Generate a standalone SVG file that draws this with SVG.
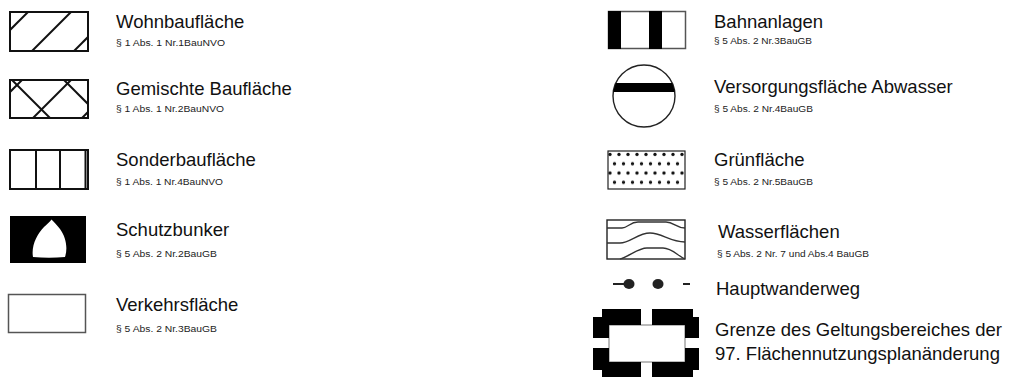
<svg xmlns="http://www.w3.org/2000/svg" width="1012" height="377" viewBox="0 0 1012 377">
<style>
.t{font-family:"Liberation Sans",Arial,sans-serif;font-size:18.5px;fill:#111}
.s{font-family:"Liberation Sans",Arial,sans-serif;font-size:8.5px;fill:#222}
.box{fill:#fff;stroke:#111;stroke-width:2}
.h{stroke:#111;stroke-width:2;fill:none}
.w{stroke:#333;stroke-width:1.3;fill:none}
</style>
<defs>
<clipPath id="cw"><rect x="10" y="12" width="78" height="39"/></clipPath>
<clipPath id="cg"><rect x="10" y="80" width="78" height="38"/></clipPath>
<clipPath id="cc"><circle cx="644" cy="96" r="31"/></clipPath>
<pattern id="dots" x="608" y="151" width="9" height="18.6" patternUnits="userSpaceOnUse">
<circle cx="2" cy="3.5" r="1.7" fill="#111"/>
<circle cx="6.5" cy="12.8" r="1.7" fill="#111"/>
</pattern>
</defs>
<rect width="1012" height="377" fill="#fff"/>

<g id="wohnbau">
<rect class="box" x="10" y="12" width="78" height="39"/>
<g clip-path="url(#cw)">
<line class="h" x1="0" y1="40" x2="40" y2="0"/>
<line class="h" x1="23" y1="60" x2="83" y2="0"/>
<line class="h" x1="65" y1="60" x2="125" y2="0"/>
</g>
<text class="t" x="116" y="28">Wohnbaufläche</text>
<text class="s" x="116" y="46" textLength="109" lengthAdjust="spacingAndGlyphs">§ 1 Abs. 1 Nr.1BauNVO</text>
</g>

<g id="gemischt">
<rect class="box" x="10" y="80" width="78" height="38"/>
<g clip-path="url(#cg)">
<line class="h" x1="0" y1="102" x2="30" y2="72"/>
<line class="h" x1="31" y1="120" x2="81" y2="70"/>
<line class="h" x1="80" y1="120" x2="100" y2="100"/>
<line class="h" x1="2" y1="70" x2="54" y2="122"/>
<line class="h" x1="54" y1="70" x2="100" y2="116"/>
</g>
<text class="t" x="116" y="95">Gemischte Baufläche</text>
<text class="s" x="116" y="112" textLength="108" lengthAdjust="spacingAndGlyphs">§ 1 Abs. 1 Nr.2BauNVO</text>
</g>

<g id="sonderbau">
<rect class="box" x="10" y="150" width="78" height="39"/>
<line class="h" x1="36" y1="150" x2="36" y2="189"/>
<line class="h" x1="60" y1="150" x2="60" y2="189"/>
<line class="h" x1="85.5" y1="150" x2="85.5" y2="189"/>
<text class="t" x="116" y="166">Sonderbaufläche</text>
<text class="s" x="116" y="185" textLength="107" lengthAdjust="spacingAndGlyphs">§ 1 Abs. 1 Nr.4BauNVO</text>
</g>

<g id="schutzbunker">
<rect x="10" y="216" width="76" height="47" fill="#000"/>
<path d="M33,257 C31,246 37,234 44,227 C47,224 50,222 51.5,219.5 C54,222 57,225 60,229 C66,237 68,248 65,257 Q49,258.5 33,257 Z" fill="#fff"/>
<text class="t" x="116" y="236">Schutzbunker</text>
<text class="s" x="116" y="257" textLength="101" lengthAdjust="spacingAndGlyphs">§ 5 Abs. 2 Nr.2BauGB</text>
</g>

<g id="verkehr">
<rect x="8.5" y="294.5" width="77" height="38" fill="#fff" stroke="#555" stroke-width="1.5"/>
<text class="t" x="116" y="311">Verkehrsfläche</text>
<text class="s" x="116" y="332" textLength="101" lengthAdjust="spacingAndGlyphs">§ 5 Abs. 2 Nr.3BauGB</text>
</g>

<g id="bahn">
<rect x="608.5" y="11.5" width="77" height="37" fill="#fff" stroke="#555" stroke-width="1.5"/>
<rect x="608" y="11" width="13" height="38" fill="#000"/>
<rect x="649" y="11" width="13" height="38" fill="#000"/>
<text class="t" x="714" y="28">Bahnanlagen</text>
<text class="s" x="714" y="44" textLength="98" lengthAdjust="spacingAndGlyphs">§ 5 Abs. 2 Nr.3BauGB</text>
</g>

<g id="versorgung">
<circle cx="644" cy="96" r="31" fill="#fff" stroke="#222" stroke-width="1.4"/>
<rect x="610" y="83" width="70" height="9" fill="#000" clip-path="url(#cc)"/>
<text class="t" x="714" y="93">Versorgungsfläche Abwasser</text>
<text class="s" x="714" y="112" textLength="99" lengthAdjust="spacingAndGlyphs">§ 5 Abs. 2 Nr.4BauGB</text>
</g>

<g id="gruen">
<rect x="608" y="151" width="77" height="38" fill="url(#dots)" stroke="#222" stroke-width="1.2"/>
<text class="t" x="714" y="166">Grünfläche</text>
<text class="s" x="714" y="185" textLength="99" lengthAdjust="spacingAndGlyphs">§ 5 Abs. 2 Nr.5BauGB</text>
</g>

<g id="wasser">
<rect x="607" y="220" width="78" height="39" fill="#fff" stroke="#222" stroke-width="1.4"/>
<path class="w" d="M607,228 L622,228 C628,228 630,222 638,222 L666,222 C674,222 676,228 685,228"/>
<path class="w" d="M607,243 L620,243 C630,243 638,233 650,233 C662,233 670,242 685,242"/>
<path class="w" d="M620,259 C630,256 638,248 647,248 L663,248 C672,248 678,256 685,259"/>
<text class="t" x="718" y="238">Wasserflächen</text>
<text class="s" x="717" y="257" textLength="152" lengthAdjust="spacingAndGlyphs">§ 5 Abs. 2 Nr. 7 und Abs.4 BauGB</text>
</g>

<g id="wanderweg">
<line x1="613" y1="284" x2="628" y2="284" stroke="#222" stroke-width="2"/>
<ellipse cx="629" cy="284" rx="5.5" ry="5" fill="#222"/>
<ellipse cx="658" cy="284" rx="5.5" ry="5" fill="#222"/>
<line x1="683" y1="284" x2="690" y2="284" stroke="#222" stroke-width="2"/>
<text class="t" x="716" y="295">Hauptwanderweg</text>
</g>

<g id="grenze">
<rect x="609" y="325" width="76" height="37" fill="#fff" stroke="#777" stroke-width="1"/>
<path d="M602,309 L641,309 L641,325 L609,325 L609,338 L593,338 L593,317 L602,317 Z" fill="#000"/>
<path d="M652,309 L693,309 L693,317 L699,317 L699,338 L685,338 L685,325 L652,325 Z" fill="#000"/>
<path d="M593,348 L609,348 L609,362 L641,362 L641,378 L602,378 L602,370 L593,370 Z" fill="#000"/>
<path d="M685,348 L699,348 L699,370 L693,370 L693,378 L652,378 L652,362 L685,362 Z" fill="#000"/>
<text class="t" x="715" y="336">Grenze des Geltungsbereiches der</text>
<text class="t" x="715" y="360">97. Flächennutzungsplanänderung</text>
</g>
</svg>
